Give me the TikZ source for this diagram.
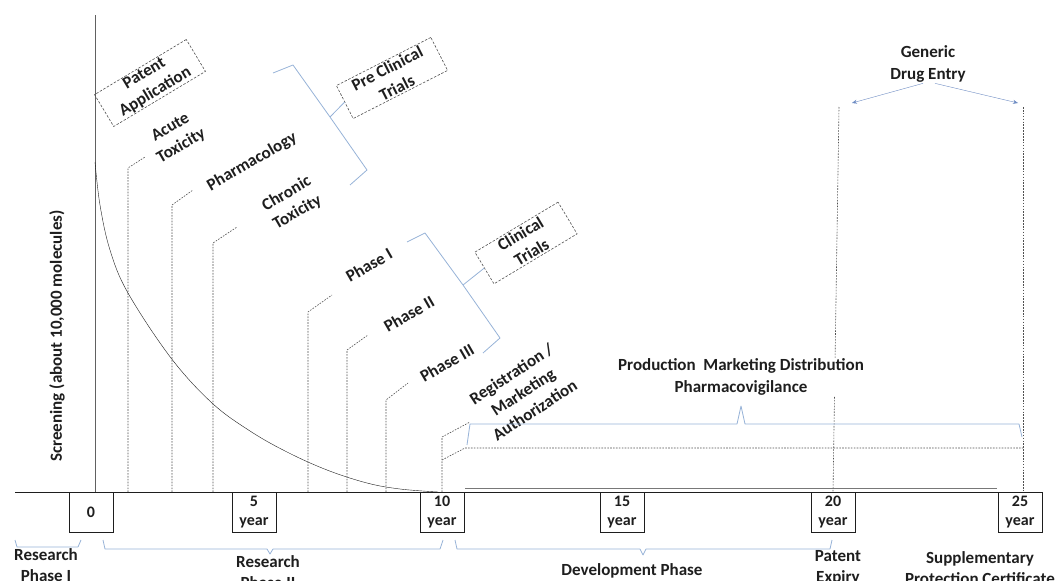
\documentclass[tikz,border=0pt]{standalone}
\usepackage{fontspec}
\setmainfont{Carlito}
\usetikzlibrary{arrows.meta}
\definecolor{bracecol}{RGB}{150,178,215}
\definecolor{arrowcol}{RGB}{110,140,195}
\definecolor{leadcol}{RGB}{80,80,80}
\definecolor{inkcol}{RGB}{30,30,30}
\tikzset{
  lbl/.style={font=\bfseries\fontsize{17}{21.5}\selectfont, text=inkcol, align=center, inner sep=1pt},
  tilted/.style={lbl, rotate=30},
  dashbox/.style={lbl, draw=leadcol, dash pattern=on 2.5pt off 1.6pt, semithick, inner sep=1pt},
  yearbox/.style={lbl, font=\bfseries\fontsize{16}{19}\selectfont, draw=inkcol, fill=white, minimum width=44pt, minimum height=40pt, anchor=north},
  leader/.style={leadcol, dash pattern=on 1.6pt off 1.3pt, semithick},
  brace/.style={bracecol, thick, line join=round},
}
\begin{document}
\begin{tikzpicture}[x=1pt,y=-1pt]
\useasboundingbox (0,0) rectangle (1063,581);

% axes
\draw [inkcol!70, thick] (95,15) -- (95,492);
\draw [inkcol] (15,492) -- (1043,492);
\draw [inkcol!60] (465,488) -- (997,488);
\draw [inkcol, thin] plot[smooth, tension=0.6] coordinates {(95,162) (100,205) (110,250) (128,293) (171,358) (212,403) (250,431) (287,452) (327,470) (367,483) (400,489) (438,492)};

% year marks
\node [yearbox] (y0) at (91,492) {0};
\node [yearbox] (y5) at (254,492) {5\\year};
\node [yearbox] (y10) at (442,492) {10\\year};
\node [yearbox] (y15) at (622,492) {15\\year};
\node [yearbox] (y20) at (833,492) {20\\year};
\node [yearbox] (y25) at (1020,492) {25\\year};

% leaders
\draw [leader] (128,492) -- (128,168) -- (145,157);
\draw [leader] (172,492) -- (172,205) -- (193,190);
\draw [leader] (213,492) -- (213,243) -- (237,227);
\draw [leader] (308,492) -- (308,312) -- (332,295);
\draw [leader] (347,492) -- (347,350) -- (368,335);
\draw [leader] (386,492) -- (386,400) -- (408,383);
\draw [leader] (y10.north) -- (442,437) -- (470,422);
\draw [leader] (442,460) -- (465,448) -- (1023,448);
\draw [leader] (839,107) -- (y20.north);
\draw [leader] (1023,107) -- (1023,492);

% labels along the curve
\node [dashbox, rotate=31, minimum width=107pt, minimum height=36pt] (patent) at (150,83) {Patent\\Application};
\node [tilted] (acute) at (176,137) {Acute\\Toxicity};
\node [tilted] (pharma) at (252,162) {Pharmacology};
\node [tilted] (chronic) at (292,203) {Chronic\\Toxicity};
\node [tilted] (ph1) at (369,265) {Phase I};
\node [tilted] (ph2) at (409,314) {Phase II};
\node [tilted] (ph3) at (447,363) {Phase III};
\node [lbl, rotate=33] (regis) at (523,392) {Registration /\\Marketing\\Authorization};

\node [dashbox, rotate=27, minimum width=106pt, minimum height=37pt] (preclin) at (392,78) {Pre Clinical\\Trials};
\node [dashbox, rotate=31, minimum width=97pt, minimum height=37pt] (clin) at (526,243) {Clinical\\Trials};

% braces
\draw [brace] (273,73) -- (293,65) -- (330,117) -- (367,170) -- (350,185);
\draw [brace] (330,117) -- (preclin.west);
\draw [brace] (407,242) -- (425,233) -- (463,285) -- (500,338) -- (483,353);
\draw [brace] (463,285) -- (clin.west);
\draw [brace] (467,445) -- (470,424) -- (737,424) -- (741,406) -- (745,424) -- (1019,424) -- (1022,437);
\draw [brace] (15,540) -- (17,547) -- (78,547) -- (81,540);
\draw [brace] (103,540) -- (105,549) -- (267,549) -- (270,554) -- (273,549) -- (440,549) -- (443,540);
\draw [brace] (455,540) -- (457,549) -- (640,549) -- (643,555) -- (646,549) -- (830,549) -- (832,540);

\node [lbl, fill=white] (prod) at (741,377) {Production\ \ Marketing Distribution\\Pharmacovigilance};

% generic entry
\node [lbl] (generic) at (928,64) {Generic\\Drug Entry};
\draw [arrowcol, -{Stealth[length=5pt,width=4pt]}] ([xshift=-5pt]generic.south) -- (852,103);
\draw [arrowcol, -{Stealth[length=5pt,width=4pt]}] ([xshift=7pt]generic.south) -- (1018,103);

% bottom texts
\node [lbl, rotate=90] (screen) at (57,336) {Screening (about 10,000 molecules)};
\node [lbl] (rp1) at (46,565) {Research\\Phase I};
\node [lbl] (rp2) at (268,572) {Research\\Phase II};
\node [lbl] (dev) at (632,571) {Development Phase};
\node [lbl] (expiry) at (838,568) {Patent\\Expiry};
\node [lbl] (spc) at (980,568) {Supplementary\\Protection Certificate};

\end{tikzpicture}
\end{document}
